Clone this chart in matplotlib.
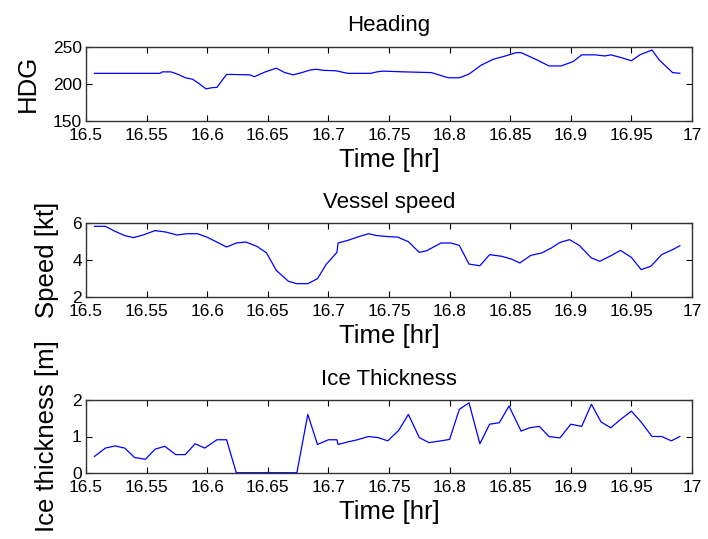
import matplotlib
matplotlib.use("Agg")
import matplotlib.pyplot as plt

plt.rcParams['font.family'] = ['Liberation Sans', 'DejaVu Sans']

# Heading data
hdg_t = [16.507, 16.561, 16.563, 16.570, 16.576, 16.582, 16.588, 16.593, 16.599, 16.604,
         16.608, 16.616, 16.635, 16.639, 16.648, 16.657, 16.664, 16.671, 16.678, 16.685,
         16.690, 16.696, 16.706, 16.716, 16.735, 16.740, 16.745, 16.762, 16.785, 16.799,
         16.808, 16.816, 16.826, 16.836, 16.844, 16.855, 16.859, 16.871, 16.882, 16.892,
         16.902, 16.909, 16.920, 16.928, 16.933, 16.941, 16.950, 16.957, 16.967, 16.973,
         16.984, 16.990]
hdg_v = [214, 214, 216, 216, 212.6, 208, 206, 200.5, 193, 194.6,
         195, 212.6, 212, 209.5, 216, 221, 215, 212, 215, 218.5,
         219.5, 218, 217.5, 214, 214, 216, 217, 216, 215, 208,
         208, 213, 225, 233, 236.5, 242, 242, 233, 224, 224,
         230, 239, 239, 237.5, 239, 235.5, 231, 239, 245.5, 232,
         215, 214]

# Vessel speed data
spd_t = [16.507, 16.516, 16.524, 16.532, 16.539, 16.547, 16.557, 16.566, 16.575, 16.583,
         16.592, 16.600, 16.608, 16.616, 16.624, 16.632, 16.641, 16.649, 16.657, 16.667,
         16.674, 16.683, 16.691, 16.698, 16.707, 16.708, 16.716, 16.724, 16.733, 16.740,
         16.750, 16.757, 16.766, 16.775, 16.781, 16.793, 16.801, 16.808, 16.816, 16.825,
         16.833, 16.843, 16.851, 16.858, 16.867, 16.876, 16.884, 16.891, 16.899, 16.907,
         16.917, 16.924, 16.933, 16.941, 16.950, 16.958, 16.966, 16.975, 16.984, 16.990]
spd_v = [5.82, 5.82, 5.55, 5.32, 5.21, 5.35, 5.59, 5.51, 5.35, 5.42,
         5.42, 5.23, 4.97, 4.70, 4.92, 4.97, 4.74, 4.38, 3.44, 2.85,
         2.72, 2.72, 2.99, 3.75, 4.41, 4.92, 5.06, 5.24, 5.42, 5.32,
         5.26, 5.24, 4.99, 4.41, 4.50, 4.92, 4.92, 4.79, 3.78, 3.69,
         4.29, 4.20, 4.05, 3.84, 4.25, 4.38, 4.65, 4.95, 5.10, 4.79,
         4.11, 3.93, 4.23, 4.52, 4.14, 3.48, 3.66, 4.29, 4.56, 4.77]

# Ice thickness data
ice_t = [16.507, 16.516, 16.524, 16.532, 16.540, 16.549, 16.557, 16.565, 16.574, 16.582,
         16.590, 16.598, 16.608, 16.616, 16.624, 16.674, 16.683, 16.691, 16.700, 16.707,
         16.708, 16.716, 16.724, 16.733, 16.741, 16.749, 16.758, 16.766, 16.775, 16.783,
         16.793, 16.800, 16.808, 16.816, 16.825, 16.833, 16.841, 16.849, 16.859, 16.866,
         16.874, 16.882, 16.891, 16.900, 16.909, 16.917, 16.925, 16.933, 16.941, 16.950,
         16.958, 16.967, 16.975, 16.983, 16.990]
ice_v = [0.45, 0.68, 0.74, 0.68, 0.42, 0.37, 0.65, 0.73, 0.50, 0.50,
         0.80, 0.68, 0.91, 0.91, 0.0, 0.0, 1.61, 0.78, 0.91, 0.91,
         0.78, 0.85, 0.91, 1.00, 0.97, 0.88, 1.17, 1.61, 0.97, 0.83,
         0.88, 0.92, 1.75, 1.93, 0.80, 1.34, 1.38, 1.84, 1.15, 1.24,
         1.28, 1.00, 0.96, 1.34, 1.28, 1.89, 1.40, 1.24, 1.47, 1.70,
         1.40, 1.00, 1.00, 0.88, 1.00]

x_ticks = [16.5, 16.55, 16.6, 16.65, 16.7, 16.75, 16.8, 16.85, 16.9, 16.95, 17]
x_ticklabels = ['16.5', '16.55', '16.6', '16.65', '16.7', '16.75', '16.8', '16.85', '16.9', '16.95', '17']

W, H = 708, 539
left, right = 86, 692

panels = [
    ("Heading", "HDG", hdg_t, hdg_v, (150, 250), [150, 200, 250], (46.7, 120.7), 40),
    ("Vessel speed", "Speed [kt]", spd_t, spd_v, (2, 6), [2, 4, 6], (223, 297), 59),
    ("Ice Thickness", "Ice thickness [m]", ice_t, ice_v, (0, 2), [0, 1, 2], (400.3, 472.7), 59),
]

fig = plt.figure(figsize=(W / 100, H / 100), dpi=100)

for title, ylabel, t, v, ylim, yticks, (top, bot), ylab_x in panels:
    ax = fig.add_axes([left / W, 1 - bot / H, (right - left) / W, (bot - top) / H])
    ax.plot(t, v, color=(0, 0, 1), lw=0.9)
    ax.set_xlim(16.5, 17)
    ax.set_ylim(*ylim)
    ax.set_xticks(x_ticks)
    ax.set_xticklabels(x_ticklabels)
    ax.set_yticks(yticks)
    ax.tick_params(direction='in', top=True, right=True, length=4, width=0.8,
                   labelsize=12.5, colors='black')
    ax.tick_params(axis='x', pad=5)
    ax.tick_params(axis='y', pad=3)
    for s in ax.spines.values():
        s.set_linewidth(1.0)
        s.set_color('#333333')
    ax.set_title(title, fontsize=16, pad=11)
    ax.set_xlabel("Time [hr]", fontsize=18.5, labelpad=4)
    ax.set_ylabel(ylabel, fontsize=18.5)
    ax.yaxis.set_label_coords((ylab_x - left) / (right - left), 0.5)

fig.savefig("out.png", dpi=100)
